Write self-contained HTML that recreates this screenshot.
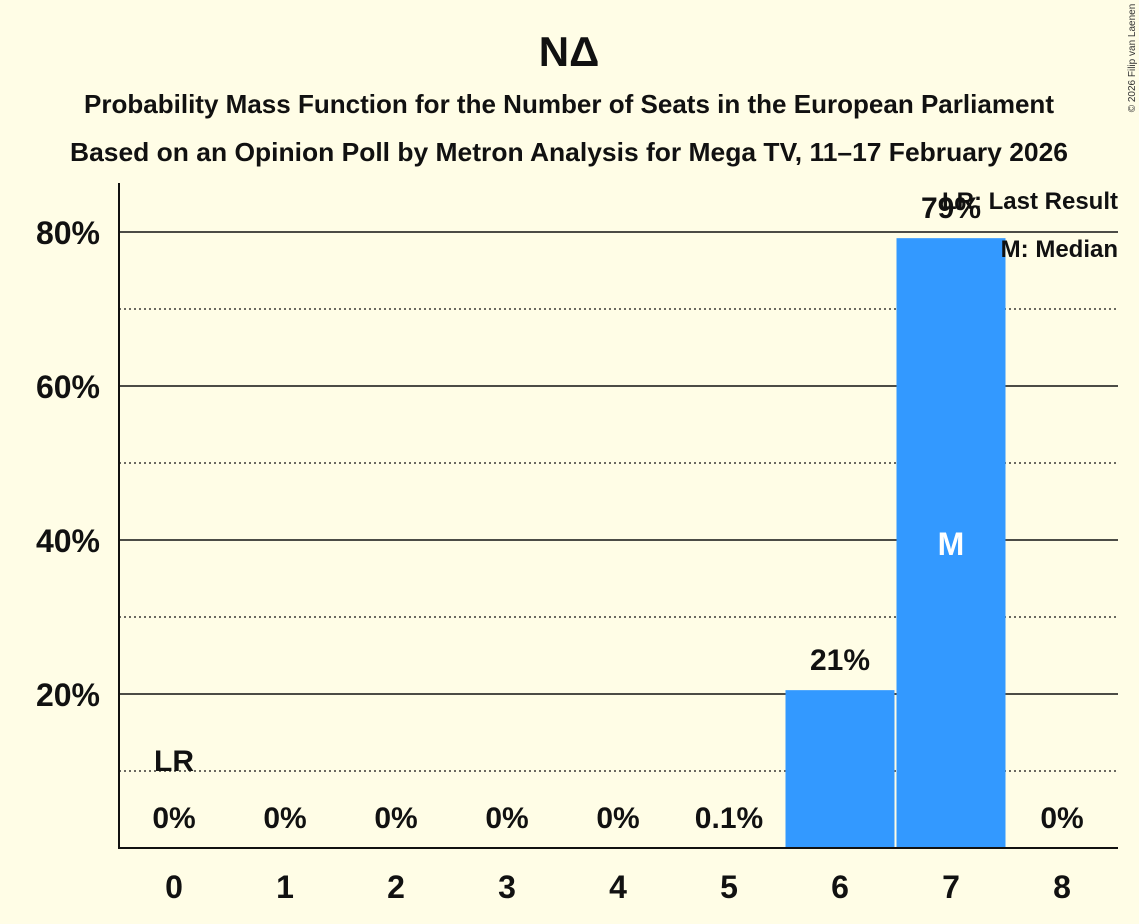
<!DOCTYPE html>
<html><head><meta charset="utf-8"><style>
body{margin:0;background:#FFFDE6;}
svg{display:block;font-family:"Liberation Sans",sans-serif;}
</style></head><body>
<svg id="chart" width="1139" height="924" viewBox="0 0 1139 924">
<rect width="1139" height="924" fill="#FFFDE6"/>
<text x="569" y="66" text-anchor="middle" font-size="42" font-weight="bold" fill="#111">NΔ</text>
<text x="569" y="113" text-anchor="middle" font-size="26" font-weight="bold" fill="#111" textLength="970" lengthAdjust="spacingAndGlyphs">Probability Mass Function for the Number of Seats in the European Parliament</text>
<text x="569" y="161" text-anchor="middle" font-size="26" font-weight="bold" fill="#111" textLength="998" lengthAdjust="spacingAndGlyphs">Based on an Opinion Poll by Metron Analysis for Mega TV, 11–17 February 2026</text>
<text transform="translate(1135,58) rotate(-90)" text-anchor="middle" font-size="10" fill="#333">© 2026 Filip van Laenen</text>
<g id="grid"></g>
<g id="bars"></g>
<g id="labels"></g>
<line x1="119" y1="183" x2="119" y2="849" stroke="#111" stroke-width="2"/>
<line x1="118" y1="848" x2="1118" y2="848" stroke="#111" stroke-width="2"/>
<text x="1118" y="209" text-anchor="end" font-size="24" font-weight="bold" fill="#111">LR: Last Result</text>
<text x="1118" y="257" text-anchor="end" font-size="24" font-weight="bold" fill="#111">M: Median</text>
</svg>
<script>
const categories=[0,1,2,3,4,5,6,7,8];
const values=[0,0,0,0,0,0.1,20.5,79.2,0];
const valueLabels=["0%","0%","0%","0%","0%","0.1%","21%","79%","0%"];
const yTicks=[20,40,60,80];
const yMinorTicks=[10,30,50,70];
const lastResultIndex=0;
const medianIndex=7;
const NS="http://www.w3.org/2000/svg";
const x=i=>174+i*111;
const y=v=>848-v*7.7;
function mk(tag,attrs,parent){const e=document.createElementNS(NS,tag);for(const k in attrs)e.setAttribute(k,attrs[k]);document.getElementById(parent).appendChild(e);return e;}
yMinorTicks.forEach(t=>{const l=mk('line',{x1:119,x2:1118,y1:y(t),y2:y(t),stroke:'#111','stroke-width':1.2,'stroke-dasharray':'2,3'},'grid');

});
yTicks.forEach(t=>{const l=mk('line',{x1:119,x2:1118,y1:y(t),y2:y(t),stroke:'#111','stroke-width':1.5},'grid');


const tx=mk('text',{x:100,y:y(t)+12,'text-anchor':'end','font-size':32,'font-weight':'bold',fill:'#111'},'labels');tx.textContent=t+'%';

});
categories.forEach((c,i)=>{
 if(values[i]>0.5){const b=mk('rect',{x:x(i)-54.5,y:y(values[i]),width:109,height:848-y(values[i]),fill:'#3399FF'},'bars');
 
 }
 const xl=mk('text',{x:x(i),y:898,'text-anchor':'middle','font-size':32,'font-weight':'bold',fill:'#111'},'labels');xl.textContent=c;
 
 
 const vy=values[i]>5?y(values[i])-20:828;
 const vl=mk('text',{x:x(i),y:vy,'text-anchor':'middle','font-size':30,'font-weight':'bold',fill:'#111'},'labels');vl.textContent=valueLabels[i];
 
 
});
const lr=mk('text',{x:x(lastResultIndex),y:771,'text-anchor':'middle','font-size':30,'font-weight':'bold',fill:'#111'},'labels');lr.textContent='LR';


const md=mk('text',{x:x(medianIndex),y:y(values[medianIndex]/2)+12,'text-anchor':'middle','font-size':32,'font-weight':'bold',fill:'#fff'},'labels');md.textContent='M';


</script>
</body></html>
